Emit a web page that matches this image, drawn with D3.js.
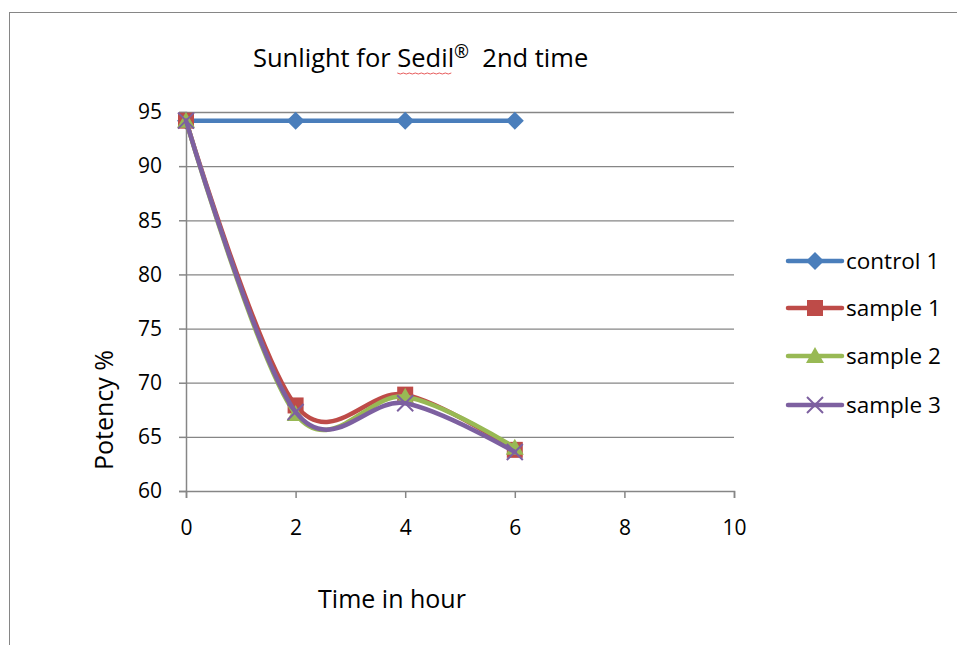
<!DOCTYPE html>
<html><head><meta charset="utf-8">
<script src="https://cdn.jsdelivr.net/npm/d3@7"></script>
<style>body{margin:0;background:#fff}svg{display:block}text{font-family:"Open Sans",Lato,sans-serif;fill:#000}</style>
</head><body><svg id="c" width="957" height="645"></svg>
<script>
const times = [0, 2, 4, 6];
const control1 = [94.2, 94.2, 94.2, 94.2];
const sample1 = [94.2, 67.9, 68.9, 63.8];
const sample2 = [94.2, 67.1, 68.7, 64.0];
const sample3 = [94.2, 67.3, 68.1, 63.6];
const seriesNames = ["control 1", "sample 1", "sample 2", "sample 3"];
const xTicks = [0, 2, 4, 6, 8, 10];
const yTicks = [60, 65, 70, 75, 80, 85, 90, 95];

const colors = ["#4A7EBB", "#BE4B48", "#98B954", "#7D60A0"];
const markers = ["diamond", "square", "triangle", "x"];
const seriesVals = [control1, sample1, sample2, sample3];

const svg = d3.select("#c");
svg.append("rect").attr("x", 9.5).attr("y", 12.5).attr("width", 960).attr("height", 650)
  .attr("fill", "#fff").attr("stroke", "#868686").attr("stroke-width", 1);

const x = d3.scaleLinear().domain([0, 10]).range([186, 734]);
const y = d3.scaleLinear().domain([60, 95]).range([491, 112]);

// gridlines
svg.append("g").selectAll("line").data(yTicks.filter(t => t > 60)).join("line")
  .attr("x1", x(0)).attr("x2", x(10)).attr("y1", d => y(d) + 0.5).attr("y2", d => y(d) + 0.5)
  .attr("stroke", "#868686").attr("stroke-width", 1.3);

const yAxis = svg.append("g").attr("transform", `translate(${x(0)},0)`)
  .call(d3.axisLeft(y).tickValues(yTicks).tickSize(7).tickPadding(17));
const xAxis = svg.append("g").attr("transform", `translate(0,${y(60)})`)
  .call(d3.axisBottom(x).tickValues(xTicks).tickSize(7).tickPadding(22));
[yAxis, xAxis].forEach(a => {
  a.select(".domain").attr("stroke", "#868686").attr("stroke-width", 1.5);
  a.selectAll(".tick line").attr("stroke", "#868686").attr("stroke-width", 1.5);
  a.selectAll("text").style("font-size", "21px").attr("fill", "#000");
});

const line = d3.line().x(d => x(d[0])).y(d => y(d[1])).curve(d3.curveCardinal.tension(0));

function drawMarker(g, type, color, cx, cy) {
  if (type === "diamond") {
    g.append("path").attr("d", `M${cx},${cy - 9}L${cx + 9},${cy}L${cx},${cy + 9}L${cx - 9},${cy}Z`).attr("fill", color);
  } else if (type === "square") {
    g.append("rect").attr("x", cx - 8).attr("y", cy - 8).attr("width", 16).attr("height", 16).attr("fill", color);
  } else if (type === "triangle") {
    g.append("path").attr("d", `M${cx},${cy - 9}L${cx + 9},${cy + 7}L${cx - 9},${cy + 7}Z`).attr("fill", color);
  } else {
    g.append("path").attr("d", `M${cx - 8},${cy - 8}L${cx + 8},${cy + 8}M${cx - 8},${cy + 8}L${cx + 8},${cy - 8}`)
      .attr("stroke", color).attr("stroke-width", 2);
  }
}

seriesVals.forEach((vals, i) => {
  const pts = times.map((t, j) => [t, vals[j]]);
  const g = svg.append("g");
  g.append("path").attr("d", line(pts)).attr("fill", "none").attr("stroke", colors[i])
    .attr("stroke-width", 4.5).attr("stroke-linecap", "round");
  pts.forEach(p => drawMarker(g, markers[i], colors[i], x(p[0]), y(p[1])));
});

// legend
const legY = [261, 308, 356, 405];
seriesNames.forEach((n, i) => {
  const g = svg.append("g");
  g.append("line").attr("x1", 788).attr("x2", 842).attr("y1", legY[i]).attr("y2", legY[i])
    .attr("stroke", colors[i]).attr("stroke-width", 4.5).attr("stroke-linecap", "round");
  drawMarker(g, markers[i], colors[i], 815, legY[i]);
  g.append("text").attr("x", 846).attr("y", legY[i] + 8).style("font-size", "22.5px").text(n);
});

// title
const title = svg.append("text").attr("x", 253).attr("y", 67).style("font-size", "25.5px").style("white-space", "pre");
title.append("tspan").text("Sunlight for ");
title.append("tspan").attr("id", "sedil").text("Sedil");
title.append("tspan").attr("dy", -9).style("font-size", "18px").text("®");
title.append("tspan").attr("dy", 9).text("  2nd time");
const sb = document.getElementById("sedil").getBBox();
svg.append("path")
  .attr("d", d3.range(0, Math.floor(sb.width / 3) + 1).map((k, j) => `${j ? "L" : "M"}${sb.x + k * 3},${73 + (k % 2)}`).join(""))
  .attr("fill", "none").attr("stroke", "#e03030").attr("stroke-width", 0.8);

svg.append("text").attr("x", 392).attr("y", 608).attr("text-anchor", "middle").style("font-size", "25px").text("Time in hour");
svg.append("text").attr("transform", "translate(113,410) rotate(-90)").attr("text-anchor", "middle").style("font-size", "25px").text("Potency %");
</script></body></html>
